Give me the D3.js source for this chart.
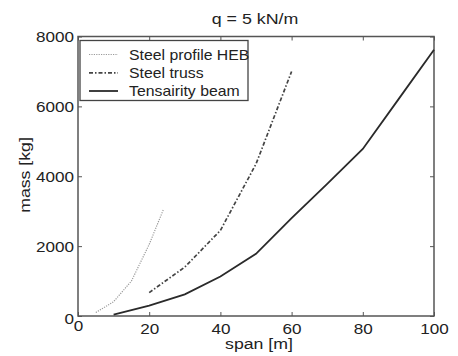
<!DOCTYPE html>
<html>
<head>
<meta charset="utf-8">
<script src="https://cdn.jsdelivr.net/npm/d3@7"></script>
<style>
  html, body { margin: 0; padding: 0; background: #fff; }
  svg { display: block; }
  text { font-family: "Liberation Sans", Arial, sans-serif; fill: #222; }
</style>
</head>
<body>
<svg id="chart" width="458" height="356"></svg>
<script>
// ---- data ----
const titleText = "q = 5 kN/m";
const xLabel = "span [m]";
const yLabel = "mass [kg]";
const xTicks = [0, 20, 40, 60, 80, 100];
const yTicks = [0, 2000, 4000, 6000, 8000];
const seriesNames = ["Steel profile HEB", "Steel truss", "Tensairity beam"];
const hebSpan = [5, 10, 15, 20, 24];
const hebMass = [100, 410, 1000, 2050, 3050];
const trussSpan = [20, 30, 40, 50, 60];
const trussMass = [670, 1400, 2450, 4350, 7000];
const tensSpan = [10, 20, 30, 40, 50, 60, 70, 80, 90, 100];
const tensMass = [40, 300, 620, 1130, 1780, 2800, 3780, 4780, 6200, 7620];

// ---- layout ----
const svg = d3.select("#chart");
const L = 78, R = 434, T = 36.5, B = 316;
const x = d3.scaleLinear().domain([0, 100]).range([L, R]);
const y = d3.scaleLinear().domain([0, 8000]).range([B, T]);
const SX = 1.18; // horizontal widening of glyphs to match reference font

const styles = [
  { color: "#9a9a9a", width: 1.2, dash: "1.2,1.2" },
  { color: "#444", width: 1.7, dash: "4,2,1.5,2" },
  { color: "#2a2a2a", width: 1.8, dash: null }
];

// axes
const fs = 14.5;
const fmt = d3.format("d");
const gx = svg.append("g").attr("transform", `translate(0,${B})`)
  .call(d3.axisBottom(x).tickValues(xTicks).tickFormat(fmt).tickSize(-4).tickPadding(8).tickSizeOuter(0));
const gy = svg.append("g").attr("transform", `translate(${L},0)`)
  .call(d3.axisLeft(y).tickValues(yTicks).tickFormat(fmt).tickSize(-4).tickPadding(4).tickSizeOuter(0));
const gt = svg.append("g").attr("transform", `translate(0,${T})`)
  .call(d3.axisTop(x).tickValues(xTicks).tickSize(-4).tickFormat("").tickSizeOuter(0));
const gr = svg.append("g").attr("transform", `translate(${R},0)`)
  .call(d3.axisRight(y).tickValues(yTicks).tickSize(-4).tickFormat("").tickSizeOuter(0));
[gx, gy, gt, gr].forEach(g => {
  g.select(".domain").remove();
  g.selectAll(".tick line").attr("stroke", "#555").attr("stroke-width", 1);
  g.selectAll(".tick text")
    .attr("font-size", fs)
    .attr("fill", "#222")
    .attr("transform", `scale(${SX},1)`)
    .style("font-family", '"Liberation Sans", Arial, sans-serif');
});
// left axis text: keep right end at label position after scaling
gy.selectAll(".tick text").attr("x", -4 / SX).attr("dy", "0.36em");
gy.selectAll(".tick").filter(d => d === 0).select("text").attr("dy", "0.5em");
gx.selectAll(".tick").filter(d => d === 0).select("text").attr("dy", "0.5em");

// plot box
svg.append("rect")
  .attr("x", L).attr("y", T).attr("width", R - L).attr("height", B - T)
  .attr("fill", "none").attr("stroke", "#555").attr("stroke-width", 1.5);

// lines
const line = d3.line().x(d => x(d[0])).y(d => y(d[1]));
const series = [
  d3.zip(hebSpan, hebMass),
  d3.zip(trussSpan, trussMass),
  d3.zip(tensSpan, tensMass)
];
series.forEach((s, i) => {
  svg.append("path").datum(s)
    .attr("d", line)
    .attr("fill", "none")
    .attr("stroke", styles[i].color)
    .attr("stroke-width", styles[i].width)
    .attr("stroke-dasharray", styles[i].dash);
});

// title & axis labels
svg.append("text")
  .attr("transform", `translate(255,24) scale(1.15,1)`)
  .attr("text-anchor", "middle").attr("font-size", 15.5).text(titleText);
svg.append("text")
  .attr("transform", `translate(259,349) scale(${SX},1)`)
  .attr("text-anchor", "middle").attr("font-size", 15).text(xLabel);
svg.append("text")
  .attr("transform", `translate(30,175) rotate(-90) scale(${SX},1)`)
  .attr("text-anchor", "middle").attr("font-size", 15).text(yLabel);

// legend
const leg = svg.append("g");
leg.append("rect")
  .attr("x", 80).attr("y", 40.5).attr("width", 168).attr("height", 60)
  .attr("fill", "#fff").attr("stroke", "#444").attr("stroke-width", 1.3);
const rowY = [54.5, 72.8, 91];
seriesNames.forEach((name, i) => {
  leg.append("line")
    .attr("x1", 89).attr("x2", 118).attr("y1", rowY[i]).attr("y2", rowY[i])
    .attr("stroke", styles[i].color)
    .attr("stroke-width", styles[i].width)
    .attr("stroke-dasharray", styles[i].dash);
  leg.append("text")
    .attr("transform", `translate(129,${rowY[i] + 5}) scale(1.13,1)`)
    .attr("font-size", 14).text(name);
});
</script>
</body>
</html>
